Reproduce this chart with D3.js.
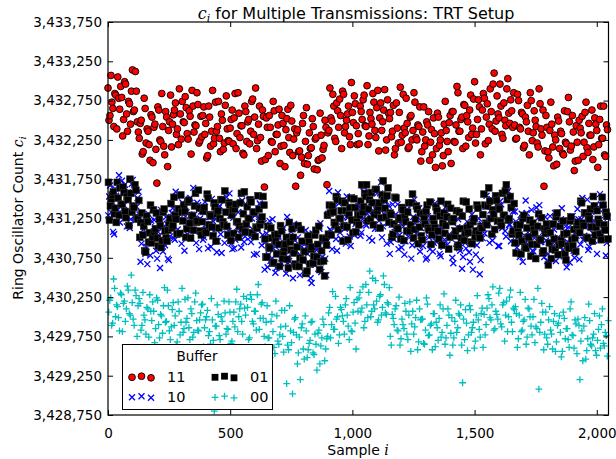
<!DOCTYPE html>
<html>
<head>
<meta charset="utf-8">
<script src="https://cdn.jsdelivr.net/npm/d3@7"></script>
<style>
  html, body { margin: 0; padding: 0; background: #fff; }
  svg { display: block; font-family: "DejaVu Sans", sans-serif; }
</style>
</head>
<body>
<svg id="chart" width="616" height="459"></svg>
<script>
// ---- data ----
// Each buffer value has two arrays: samples 0,8,16,... and samples 4,12,20,...
const sampleStep = 8;
const xTicks = [0, 500, 1000, 1500, 2000];
const yTicks = [3428750, 3429250, 3429750, 3430250, 3430750, 3431250, 3431750, 3432250, 3432750, 3433250, 3433750];
const legendLabels = ["11", "10", "01", "00"];

const buf11 = [
3432910,3432560,3432730,3432420,3432820,3433050,3432640,3432790,3432510,3432960,3432360,3432710,3432870,3432610,3433120,3432480,
3432270,3432500,3432100,3432650,3432390,3432190,3432570,3431960,3432450,3431700,3432630,3432230,3432420,3432060,3432540,3432370,
3432820,3432450,3432630,3432320,3432190,3432580,3432740,3432470,3432660,3432260,3432550,3432880,3432350,3432430,3432700,3432240,
3432290,3432670,3432460,3432050,3432540,3432360,3432200,3432730,3432420,3432270,3432580,3432130,3432690,3432390,3432230,3432510,
3432200,3432840,3432330,3432590,3432430,3432080,3432680,3432230,3432510,3432360,3432770,3432540,3432140,3432450,3432280,3432630,
3431650,3432530,3432050,3432410,3432220,3432620,3432320,3432440,3431950,3432560,3432180,3432380,3432640,3432090,3432490,3432260,
3431660,3432380,3432110,3432030,3432560,3432230,3431940,3432340,3432150,3432420,3432260,3431870,3432000,3432310,3432130,3432500,
3431680,3432370,3432530,3432830,3432270,3432720,3432410,3432560,3432870,3432340,3432500,3432680,3432190,3432600,3432810,3432430,
3432330,3432680,3432510,3432820,3432420,3432190,3432600,3432450,3432730,3432280,3432880,3432530,3432370,3432630,3432120,3432760,
3432520,3432290,3432690,3432140,3432400,3432600,3432220,3432830,3432340,3432460,3432160,3432560,3432370,3432730,3432250,3432420,
3431980,3432350,3432170,3432480,3432610,3432220,3432060,3432330,3432140,3432540,3432250,3431920,3432450,3432370,3432100,3432560,
3432610,3432230,3432440,3432850,3432360,3432540,3432700,3432170,3432480,3432630,3432320,3432770,3432210,3432510,3432670,3432390,
3432840,3432200,3432710,3432450,3432610,3432960,3432360,3432810,3432530,3432680,3432270,3432500,3432900,3432590,3432760,3432410,
3432440,3432270,3432750,3432390,3432580,3432180,3432480,3432360,3432850,3432240,3432620,3432420,3432160,3432710,3432310,3431660,
3432560,3432100,3432370,3432450,3431920,3432250,3432540,3432140,3432330,3432060,3432220,3432610,3432480,3432170,3432350,3431980,
3432220,3432500,3432340,3432040,3432600,3432150,3432460,3432310,3432000,3432530,3432370,3432190,3432680,3432270,3432060,3432440
];
const buf11b = [
3432500,3433070,3432650,3432840,3432390,3432780,3432930,3432300,3432990,3432580,3432740,3432450,3433140,3432630,3432870,3432350,
3432460,3432070,3432780,3432210,3432360,3431990,3432540,3432410,3432130,3432670,3432250,3432840,3432170,3432610,3431910,3432480,
3432160,3432570,3432720,3432390,3432900,3432260,3432480,3432800,3432330,3432620,3432070,3432680,3432440,3432850,3432210,3432550,
3432560,3432320,3432020,3432680,3432170,3432880,3432270,3432360,3432740,3432100,3432500,3432210,3432810,3432240,3432400,3432630,
3432530,3432140,3432850,3432280,3432430,3432060,3432610,3432480,3432200,3432740,3432320,3432910,3432240,3432680,3431980,3432550,
3432000,3432410,3432560,3432230,3432740,3432100,3432320,3432640,3432170,3432460,3431910,3432520,3432280,3432690,3432050,3432390,
3432340,3432100,3431800,3432460,3431950,3432660,3432050,3432140,3432520,3431880,3432280,3431990,3432590,3432020,3432180,3432410,
3432340,3432910,3432490,3432680,3432230,3432620,3432770,3432140,3432830,3432420,3432580,3432290,3432980,3432470,3432710,3432190,
3432200,3432610,3432760,3432430,3432940,3432300,3432520,3432840,3432370,3432660,3432110,3432720,3432480,3432890,3432250,3432590,
3432600,3432360,3432060,3432720,3432210,3432920,3432310,3432400,3432780,3432140,3432540,3432250,3432850,3432280,3432440,3432670,
3432100,3432670,3432250,3432440,3431990,3432380,3432530,3431900,3432590,3432180,3432340,3432050,3432740,3432230,3432470,3431950,
3432610,3432220,3432930,3432360,3432510,3432140,3432690,3432560,3432280,3432820,3432400,3432990,3432320,3432760,3432060,3432630,
3432780,3432540,3432240,3432900,3432390,3433100,3432490,3432580,3432960,3432320,3432720,3432430,3433030,3432460,3432620,3432850,
3432260,3432830,3432410,3432600,3432150,3432540,3432690,3432060,3432750,3432340,3432500,3432210,3432900,3432390,3432630,3432110,
3432410,3432020,3432730,3432160,3432310,3431940,3432490,3432360,3432080,3432620,3432200,3432790,3432120,3432560,3431860,3432430,
3431990,3432400,3432550,3432220,3432730,3432090,3432310,3432630,3432160,3432450,3431900,3432510,3432270,3432680,3432040,3432380
];

const buf10 = [
3431290,3431670,3431460,3431050,3431540,3431360,3431200,3431730,3431420,3431270,3431580,3431130,3431690,3431390,3431230,3431510,
3431300,3430930,3431110,3430800,3430670,3431060,3431220,3430950,3431140,3430740,3431030,3431360,3430830,3430910,3431180,3430720,
3431150,3431380,3430980,3431530,3431270,3431070,3431450,3430840,3431330,3431210,3431510,3431110,3431300,3430940,3431420,3431250,
3431360,3431010,3431180,3430870,3431270,3431500,3431090,3431240,3430960,3431410,3430810,3431160,3431320,3431060,3431570,3430930,
3431260,3430980,3431140,3431440,3430880,3431330,3431020,3431170,3431480,3430950,3431110,3431290,3430800,3431210,3431420,3431040,
3430600,3431060,3430790,3430710,3431240,3430910,3430620,3431020,3430830,3431100,3430940,3430550,3430680,3430990,3430810,3431180,
3430840,3431010,3430530,3430890,3430700,3431100,3430800,3430920,3430430,3431040,3430660,3430860,3431120,3430570,3430970,3430740,
3430960,3431600,3431090,3431350,3431190,3430840,3431440,3430990,3431270,3431120,3431530,3431300,3430900,3431210,3431040,3431390,
3431410,3431030,3431240,3431650,3431160,3431340,3431500,3430970,3431280,3431430,3431120,3431570,3431010,3431310,3431470,3431190,
3430800,3431170,3430990,3431300,3431430,3431040,3430880,3431150,3430960,3431360,3431070,3430740,3431270,3431190,3430920,3431380,
3431130,3430900,3431300,3430750,3431010,3431210,3430830,3431440,3430950,3431070,3430770,3431170,3430980,3431340,3430860,3431030,
3430750,3431100,3430930,3431240,3430840,3430610,3431020,3430870,3431150,3430700,3431300,3430950,3430790,3431050,3430540,3431180,
3431120,3431400,3431240,3430940,3431500,3431050,3431360,3431210,3430900,3431430,3431270,3431090,3431580,3431170,3430960,3431340,
3431340,3430880,3431150,3431230,3430700,3431030,3431320,3430920,3431110,3430840,3431000,3431390,3431260,3430950,3431130,3430760,
3430970,3430800,3431280,3430920,3431110,3430710,3431010,3430890,3431380,3430770,3431150,3430950,3430690,3431240,3430840,3431070,
3431370,3430730,3431240,3430980,3431140,3431490,3430890,3431340,3431060,3431210,3430800,3431030,3431430,3431120,3431290,3430940
];
const buf10b = [
3431530,3431330,3431080,3431630,3431210,3431800,3431290,3431370,3431680,3431150,3431480,3431240,3431740,3431270,3431400,3431590,
3430700,3431040,3431160,3430890,3431310,3430780,3430960,3431230,3430840,3431080,3430620,3431130,3430930,3431270,3430740,3431020,
3431320,3431000,3431590,3431110,3431240,3430930,3431390,3431280,3431050,3431500,3431150,3431640,3431080,3431450,3430860,3431340,
3430980,3431460,3431110,3431270,3430890,3431220,3431340,3430820,3431390,3431050,3431180,3430940,3431520,3431090,3431290,3430860,
3430870,3431210,3431330,3431060,3431480,3430950,3431130,3431400,3431010,3431250,3430790,3431300,3431100,3431440,3430910,3431190,
3430950,3430630,3431220,3430740,3430870,3430560,3431020,3430910,3430680,3431130,3430780,3431270,3430710,3431080,3430490,3430970,
3430650,3431130,3430780,3430940,3430560,3430890,3431010,3430490,3431060,3430720,3430850,3430610,3431190,3430760,3430960,3430530,
3431310,3431110,3430860,3431410,3430990,3431580,3431070,3431150,3431460,3430930,3431260,3431020,3431520,3431050,3431180,3431370,
3431390,3431070,3431660,3431180,3431310,3431000,3431460,3431350,3431120,3431570,3431220,3431710,3431150,3431520,3430930,3431410,
3430950,3431430,3431080,3431240,3430860,3431190,3431310,3430790,3431360,3431020,3431150,3430910,3431490,3431060,3431260,3430830,
3431180,3430980,3430730,3431280,3430860,3431450,3430940,3431020,3431330,3430800,3431130,3430890,3431390,3430920,3431050,3431240,
3430680,3431020,3431140,3430870,3431290,3430760,3430940,3431210,3430820,3431060,3430600,3431110,3430910,3431250,3430720,3431000,
3431060,3431540,3431190,3431350,3430970,3431300,3431420,3430900,3431470,3431130,3431260,3431020,3431600,3431170,3431370,3430940,
3431210,3431010,3430760,3431310,3430890,3431480,3430970,3431050,3431360,3430830,3431160,3430920,3431420,3430950,3431080,3431270,
3430710,3431050,3431170,3430900,3431320,3430790,3430970,3431240,3430850,3431090,3430630,3431140,3430940,3431280,3430750,3431030,
3431240,3430920,3431510,3431030,3431160,3430850,3431310,3431200,3430970,3431420,3431070,3431560,3431000,3431370,3430780,3431260
];

const buf01 = [
3431710,3431410,3431550,3431310,3431200,3431510,3431640,3431430,3431580,3431260,3431490,3431750,3431330,3431390,3431610,3431240,
3431010,3431320,3431150,3430820,3431210,3431070,3430940,3431360,3431120,3431000,3431240,3430880,3431330,3431090,3430960,3431190,
3431440,3431160,3431290,3431050,3431370,3431550,3431220,3431340,3431120,3431480,3431000,3431280,3431410,3431200,3431610,3431090,
3431210,3431390,3431070,3431510,3431300,3431140,3431450,3430960,3431350,3431250,3431490,3431170,3431330,3431040,3431420,3431290,
3431060,3431430,3431210,3431150,3431570,3431310,3431080,3431400,3431250,3431460,3431330,3431020,3431130,3431370,3431230,3431530,
3430990,3430760,3430890,3431130,3430680,3431040,3430800,3430920,3431160,3430740,3430870,3431010,3430620,3430950,3431120,3430810,
3430640,3431160,3430750,3430960,3430830,3430550,3431030,3430670,3430890,3430770,3431100,3430920,3430600,3430840,3430710,3430990,
3431290,3431420,3431040,3431330,3431170,3431490,3431250,3431350,3430960,3431450,3431140,3431300,3431510,3431070,3431390,3431210,
3431170,3431470,3431330,3431570,3431680,3431370,3431240,3431450,3431300,3431620,3431390,3431130,3431550,3431490,3431270,3431640,
3431320,3431010,3431180,3431510,3431120,3431260,3431390,3430970,3431210,3431330,3431090,3431450,3431000,3431240,3431370,3431140,
3431030,3431310,3431180,3431420,3431100,3430920,3431250,3431130,3431350,3430990,3431470,3431190,3431060,3431270,3430860,3431380,
3431210,3431030,3431350,3430910,3431120,3431280,3430970,3431460,3431070,3431170,3430930,3431250,3431090,3431380,3431000,3431130,
3431560,3431190,3431410,3431470,3431050,3431310,3431540,3431220,3431370,3431160,3431290,3431600,3431490,3431250,3431390,3431090,
3430940,3431170,3431040,3430800,3431250,3430890,3431130,3431010,3430770,3431190,3431060,3430920,3431310,3430980,3430810,3431120,
3431180,3430660,3431070,3430860,3430990,3431270,3430790,3431150,3430930,3431050,3430720,3430900,3431220,3430980,3431110,3430830,
3431200,3431070,3431450,3431160,3431320,3431000,3431240,3431140,3431530,3431040,3431350,3431190,3430980,3431420,3431100,3431280
];
const buf01b = [
3431230,3431500,3431590,3431380,3431710,3431290,3431430,3431650,3431340,3431530,3431160,3431570,3431410,3431680,3431260,3431480,
3431200,3431040,3430840,3431280,3430950,3431420,3431010,3431080,3431320,3430900,3431160,3430970,3431370,3431000,3431100,3431250,
3431130,3431520,3431240,3431370,3431060,3431330,3431420,3431010,3431460,3431190,3431290,3431100,3431570,3431220,3431380,3431040,
3431340,3431090,3431560,3431170,3431280,3431030,3431400,3431310,3431130,3431490,3431210,3431600,3431150,3431450,3430970,3431360,
3431370,3431210,3431010,3431450,3431120,3431590,3431180,3431250,3431490,3431070,3431330,3431140,3431540,3431170,3431270,3431420,
3430760,3431150,3430870,3431000,3430690,3430960,3431050,3430640,3431090,3430820,3430920,3430730,3431200,3430850,3431010,3430670,
3430890,3430640,3431110,3430720,3430830,3430580,3430950,3430860,3430680,3431040,3430760,3431150,3430700,3431000,3430520,3430910,
3431050,3431320,3431410,3431200,3431530,3431110,3431250,3431470,3431160,3431350,3430980,3431390,3431230,3431500,3431080,3431300,
3431290,3431680,3431400,3431530,3431220,3431490,3431580,3431170,3431620,3431350,3431450,3431260,3431730,3431380,3431540,3431200,
3431300,3431050,3431520,3431130,3431240,3430990,3431360,3431270,3431090,3431450,3431170,3431560,3431110,3431410,3430930,3431320,
3430980,3431250,3431340,3431130,3431460,3431040,3431180,3431400,3431090,3431280,3430910,3431320,3431160,3431430,3431010,3431230,
3431250,3431090,3430890,3431330,3431000,3431470,3431060,3431130,3431370,3430950,3431210,3431020,3431420,3431050,3431150,3431300,
3431420,3431170,3431640,3431250,3431360,3431110,3431480,3431390,3431210,3431570,3431290,3431680,3431230,3431530,3431050,3431440,
3430810,3431080,3431170,3430960,3431290,3430870,3431010,3431230,3430920,3431110,3430740,3431150,3430990,3431260,3430840,3431060,
3431100,3430940,3430740,3431180,3430850,3431320,3430910,3430980,3431220,3430800,3431060,3430870,3431270,3430900,3431000,3431150,
3431080,3431470,3431190,3431320,3431010,3431280,3431370,3430960,3431410,3431140,3431240,3431050,3431520,3431170,3431330,3430990
];

const buf00 = [
3430060,3430240,3429920,3430360,3430150,3429990,3430300,3429810,3430200,3430100,3430340,3430020,3430180,3429890,3430270,3430140,
3430170,3429890,3430020,3429780,3430100,3430280,3429950,3430070,3429850,3430210,3429730,3430010,3430140,3429930,3430340,3429820,
3429870,3430180,3430010,3429680,3430070,3429930,3429800,3430220,3429980,3429860,3430100,3429740,3430190,3429950,3429820,3430050,
3430160,3429860,3430000,3429760,3429650,3429960,3428800,3429880,3430030,3429710,3429940,3430200,3429780,3429840,3430060,3429690,
3430060,3430190,3429810,3430100,3429940,3430260,3430020,3430120,3429730,3430220,3429910,3430070,3430280,3429840,3430160,3429980,
3429620,3430140,3429730,3429940,3429810,3429530,3430010,3429650,3429870,3429750,3430080,3429150,3429580,3429820,3429020,3429970,
3429770,3429540,3429200,3429910,3429460,3429820,3429580,3429700,3429940,3429520,3429650,3429790,3429400,3429730,3429900,3429590,
3429750,3430120,3429900,3429840,3430260,3430000,3429770,3430090,3429940,3430150,3430020,3429710,3429820,3430060,3429920,3430220,
3430240,3430060,3430380,3429940,3430150,3430310,3430000,3430490,3430100,3430200,3429960,3430280,3430120,3430410,3430030,3430160,
3429750,3430030,3429900,3430140,3429820,3429640,3429970,3429850,3430070,3429710,3430190,3429910,3429780,3429990,3429580,3430100,
3429970,3429660,3429830,3430160,3429770,3429910,3430040,3429620,3429860,3429980,3429740,3430100,3429650,3429890,3430020,3429790,
3429640,3429940,3429800,3430040,3430150,3429160,3429710,3429920,3429770,3430090,3429860,3429600,3430020,3429960,3429740,3430110,
3430030,3429900,3430280,3429990,3430150,3429830,3430070,3429970,3430360,3429870,3430180,3430020,3429810,3430250,3429930,3430110,
3430130,3429610,3430020,3429810,3429940,3430220,3429740,3430100,3429880,3430000,3429670,3429850,3429080,3429930,3430060,3429780,
3429730,3429960,3429830,3429590,3430040,3429680,3429920,3429800,3429560,3429980,3429850,3429710,3430100,3429770,3429600,3429910,
3429970,3429200,3429820,3429880,3429460,3429720,3429950,3429630,3429780,3429570,3429700,3430010,3429900,3429660,3429800,3429500
];
const buf00b = [
3430210,3429890,3430480,3430000,3430130,3429820,3430280,3430170,3429940,3430390,3430040,3430530,3429970,3430340,3429750,3430230,
3429830,3430310,3429960,3430120,3429740,3430070,3430190,3429670,3430240,3429900,3430030,3429790,3430370,3429940,3430140,3429710,
3430090,3429890,3429640,3430190,3429770,3430360,3429850,3429930,3430240,3429710,3430040,3429800,3430300,3429830,3429960,3430150,
3429620,3429960,3430080,3429810,3430230,3429700,3429880,3430150,3429760,3430000,3429540,3430050,3429850,3430190,3429660,3429940,
3429870,3430350,3430000,3430160,3429780,3430110,3430230,3429710,3430280,3429940,3430070,3429830,3430410,3429980,3430180,3429750,
3429930,3429730,3429480,3430030,3429610,3430200,3429690,3429770,3430080,3429550,3429880,3429640,3430140,3429670,3429800,3429990,
3429400,3429740,3429860,3429590,3430010,3429480,3429660,3429930,3429540,3429780,3429320,3429830,3429630,3429970,3429440,3429720,
3430050,3429730,3430320,3429840,3429970,3429660,3430120,3430010,3429780,3430230,3429880,3430370,3429810,3430180,3429590,3430070,
3430310,3430110,3429860,3430410,3429990,3430580,3430070,3430150,3430460,3429930,3430260,3430020,3430520,3430050,3430180,3430370,
3429640,3429980,3430100,3429830,3430250,3429720,3429900,3430170,3429780,3430020,3429560,3430070,3429870,3430210,3429680,3429960,
3429970,3429650,3430240,3429760,3429890,3429580,3430040,3429930,3429700,3430150,3429800,3430290,3429730,3430100,3429510,3429990,
3429730,3430210,3429860,3430020,3429640,3429970,3430090,3429570,3430140,3429800,3429930,3429690,3430270,3429840,3430040,3429610,
3429770,3430110,3430230,3429960,3430380,3429850,3430030,3430300,3429910,3430150,3429690,3430200,3430000,3430340,3429810,3430090,
3430040,3429720,3430310,3429830,3429960,3429650,3430110,3430000,3429770,3430220,3429870,3430360,3429800,3430170,3429580,3430060,
3429650,3430130,3429780,3429940,3429560,3429890,3430010,3429490,3430060,3429720,3429850,3429610,3430190,3429760,3429960,3429530,
3429890,3429690,3429440,3429990,3429570,3430160,3429650,3429730,3430040,3429510,3429840,3429600,3430100,3429630,3429760,3429950
];

// ---- layout ----
const svg = d3.select("#chart");
const L = 108, R = 608.5, T = 22, B = 415;
const x = d3.scaleLinear().domain([0, 2048]).range([L, R]);
const y = d3.scaleLinear().domain([3428750, 3433750]).range([B, T]);

const clr = { r: "#ff0000", b: "#0000ff", k: "#000000", c: "#00bfbf" };

// combine the two sample sets of a series into {i, v} points
function series(a, b, offset) {
  const pts = [];
  a.forEach((v, k) => {
    pts.push({ i: k * sampleStep + offset, v });
    pts.push({ i: k * sampleStep + offset + sampleStep / 2, v: b[k] });
  });
  return pts;
}

const plot = svg.append("g");

function circles(g, data) {
  g.selectAll(null).data(data).enter().append("circle")
    .attr("cx", d => x(d.i)).attr("cy", d => y(d.v))
    .attr("r", 3.4)
    .attr("fill", clr.r).attr("stroke", "#000").attr("stroke-width", 0.9);
}
function crosses(g, data) {
  const s = 3;
  g.selectAll(null).data(data).enter().append("path")
    .attr("transform", d => `translate(${x(d.i)},${y(d.v)})`)
    .attr("d", `M${-s},${-s}L${s},${s}M${-s},${s}L${s},${-s}`)
    .attr("stroke", clr.b).attr("stroke-width", 1.3).attr("fill", "none");
}
function squares(g, data) {
  const s = 3.4;
  g.selectAll(null).data(data).enter().append("rect")
    .attr("x", d => x(d.i) - s).attr("y", d => y(d.v) - s)
    .attr("width", 2 * s).attr("height", 2 * s)
    .attr("fill", clr.k).attr("stroke", "#333").attr("stroke-width", 0.6);
}
function pluses(g, data) {
  const s = 3.4;
  g.selectAll(null).data(data).enter().append("path")
    .attr("transform", d => `translate(${x(d.i)},${y(d.v)})`)
    .attr("d", `M${-s},0L${s},0M0,${-s}L0,${s}`)
    .attr("stroke", clr.c).attr("stroke-width", 1.3).attr("fill", "none");
}

circles(plot.append("g"), series(buf11, buf11b, 0));
crosses(plot.append("g"), series(buf10, buf10b, 1));
squares(plot.append("g"), series(buf01, buf01b, 2));
pluses(plot.append("g"), series(buf00, buf00b, 3));

// ---- axes (inward ticks on all sides) ----
const fmt = d3.format(",");
const axB = svg.append("g").attr("transform", `translate(0,${B})`)
  .call(d3.axisBottom(x).tickValues(xTicks).tickFormat(fmt).tickSizeInner(-5).tickSizeOuter(0).tickPadding(13));
const axL = svg.append("g").attr("transform", `translate(${L},0)`)
  .call(d3.axisLeft(y).tickValues(yTicks).tickFormat(fmt).tickSizeInner(-5).tickSizeOuter(0).tickPadding(6));
const axT = svg.append("g").attr("transform", `translate(0,${T})`)
  .call(d3.axisTop(x).tickValues(xTicks).tickFormat("").tickSizeInner(-5).tickSizeOuter(0));
const axR = svg.append("g").attr("transform", `translate(${R},0)`)
  .call(d3.axisRight(y).tickValues(yTicks).tickFormat("").tickSizeInner(-5).tickSizeOuter(0));
[axB, axL, axT, axR].forEach(a => {
  a.select(".domain").remove();
  a.selectAll("line").attr("stroke", "#000").attr("stroke-width", 1);
  a.selectAll("text").attr("font-family", "DejaVu Sans, sans-serif").attr("font-size", 13.5).attr("fill", "#000");
});

svg.append("rect").attr("x", L).attr("y", T).attr("width", R - L).attr("height", B - T)
  .attr("fill", "none").attr("stroke", "#000").attr("stroke-width", 1.2);

// ---- titles ----
const title = svg.append("text").attr("x", 356).attr("y", 19).attr("text-anchor", "middle")
  .attr("font-size", 16);
title.append("tspan").attr("font-family", "DejaVu Serif, serif").attr("font-style", "italic").text("c");
title.append("tspan").attr("font-family", "DejaVu Serif, serif").attr("font-style", "italic")
  .attr("font-size", 11).attr("dy", 3).text("i");
title.append("tspan").attr("dy", -3).text(" for Multiple Transmissions: TRT Setup");

const xl = svg.append("text").attr("x", 358).attr("y", 455).attr("text-anchor", "middle").attr("font-size", 14);
xl.append("tspan").text("Sample ");
xl.append("tspan").attr("font-family", "DejaVu Serif, serif").attr("font-style", "italic").text("i");

const yl = svg.append("text").attr("transform", "translate(23,218) rotate(-90)")
  .attr("text-anchor", "middle").attr("font-size", 14);
yl.append("tspan").text("Ring Oscillator Count ");
yl.append("tspan").attr("font-family", "DejaVu Serif, serif").attr("font-style", "italic").text("c");
yl.append("tspan").attr("font-family", "DejaVu Serif, serif").attr("font-style", "italic")
  .attr("font-size", 10).attr("dy", 3).text("i");

// ---- legend ----
const lg = svg.append("g");
lg.append("rect").attr("x", 122.5).attr("y", 344.5).attr("width", 150).attr("height", 65)
  .attr("fill", "#fff").attr("stroke", "#000").attr("stroke-width", 1);
lg.append("text").attr("x", 197).attr("y", 361).attr("text-anchor", "middle").attr("font-size", 13.5).text("Buffer");

const mx = [0, 9.5, 19];
const my = [0.3, -0.8, 0.8];
const cols = [[132, 167], [215, 250]];
const rows = [377, 397];
const entries = [
  { label: legendLabels[0], col: 0, row: 0, draw: (g, cx, cy) => g.append("circle").attr("cx", cx).attr("cy", cy).attr("r", 3.4).attr("fill", clr.r).attr("stroke", "#000").attr("stroke-width", 0.9) },
  { label: legendLabels[1], col: 0, row: 1, draw: (g, cx, cy) => g.append("path").attr("d", `M${cx-3},${cy-3}L${cx+3},${cy+3}M${cx-3},${cy+3}L${cx+3},${cy-3}`).attr("stroke", clr.b).attr("stroke-width", 1.3) },
  { label: legendLabels[2], col: 1, row: 0, draw: (g, cx, cy) => g.append("rect").attr("x", cx - 3.4).attr("y", cy - 3.4).attr("width", 6.8).attr("height", 6.8).attr("fill", clr.k) },
  { label: legendLabels[3], col: 1, row: 1, draw: (g, cx, cy) => g.append("path").attr("d", `M${cx-3.4},${cy}L${cx+3.4},${cy}M${cx},${cy-3.4}L${cx},${cy+3.4}`).attr("stroke", clr.c).attr("stroke-width", 1.3) }
];
entries.forEach(e => {
  const [x0, tx] = cols[e.col];
  const cy = rows[e.row];
  mx.forEach((dx, k) => e.draw(lg, x0 + dx, cy + my[k]));
  lg.append("text").attr("x", tx).attr("y", cy + 5).attr("font-size", 14.5).text(e.label);
});
</script>
</body>
</html>
